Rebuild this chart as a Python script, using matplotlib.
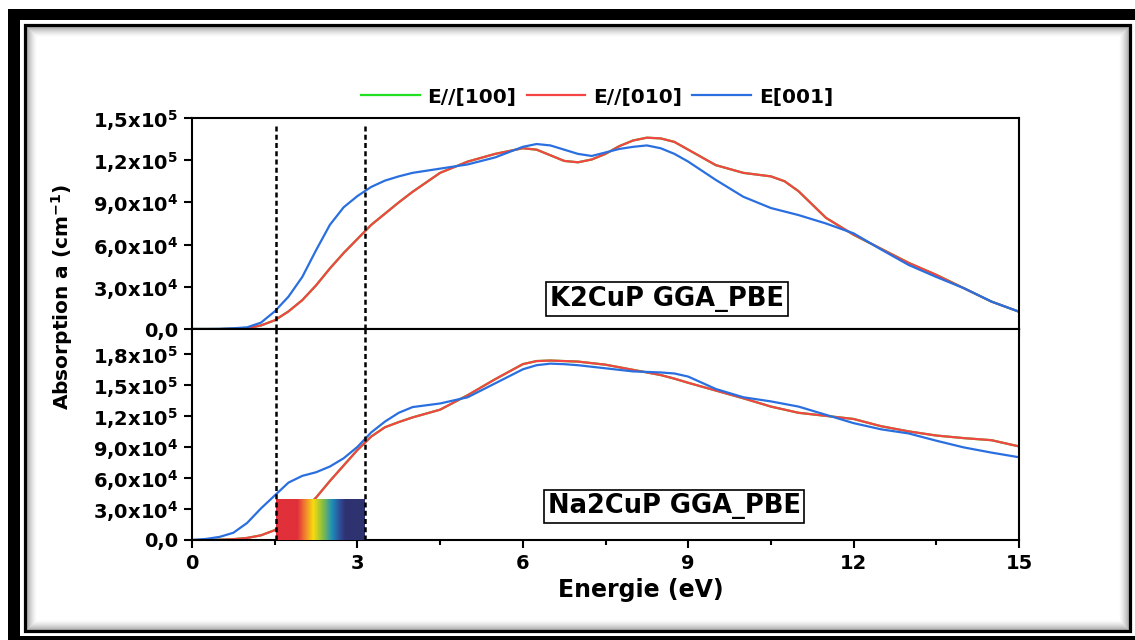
import matplotlib.pyplot as plt
import numpy as np
from matplotlib.patches import Rectangle
from matplotlib.colors import LinearSegmentedColormap
from matplotlib.lines import Line2D
from matplotlib.ticker import MultipleLocator

plt.rcParams['font.family'] = 'DejaVu Sans'
plt.rcParams['font.weight'] = 'bold'
plt.rcParams['mathtext.default'] = 'bf'

# energie (eV)
energie = [0, 0.25, 0.5, 0.75, 1.0, 1.25, 1.5, 1.75, 2.0, 2.25, 2.5, 2.75, 3.0, 3.25, 3.5, 3.75,
           4.0, 4.5, 5.0, 5.5, 6.0, 6.25, 6.5, 6.75, 7.0, 7.25, 7.5, 7.75, 8.0, 8.25, 8.5, 8.75,
           9.0, 9.5, 10.0, 10.5, 10.75, 11.0, 11.5, 12.0, 12.5, 13.0, 13.5, 14.0, 14.5, 15.0]

# K2CuP, absorption en 1e3 cm-1
k2_e010 = [0, 0, 0, 0.2, 0.6, 2.5, 6.2, 12.5, 20.5, 31, 43, 54, 64, 74, 82, 90,
           97.5, 111, 119, 124.5, 128.5, 127.5, 123.5, 119.5, 118.5, 120.5, 124.5, 130, 134, 136, 135.5, 133,
           127.5, 116.5, 111, 108.5, 105, 98, 79, 67, 57, 47, 38.5, 29, 19.5, 12.3]
k2_e100 = list(k2_e010)  # [100] = [010], cachee sous la rouge
k2_e001 = [0, 0, 0.1, 0.5, 1.2, 4.5, 12.5, 23, 37, 56, 74, 86.5, 94.5, 101, 105.5, 108.5,
           111, 114, 117, 122, 129.5, 131.5, 130.5, 127.5, 124.5, 123, 125.5, 128, 129.5, 130.5, 128.5, 124.5,
           119, 106, 94, 86, 83.5, 81, 75, 68, 56.5, 45.5, 37, 29, 19.5, 12.3]

# Na2CuP
na2_e010 = [0, 0, 0.3, 0.8, 2, 4.5, 9.5, 18, 28, 41, 57, 72, 87, 100, 109, 114,
            118.5, 126, 140, 155.5, 170, 173, 173.5, 173, 172.5, 171, 169.5, 167, 164.5, 162, 159.5, 156,
            152, 144.5, 137, 129, 126, 123, 120, 117, 110, 105, 101, 98.5, 96.5, 90.5]
na2_e100 = list(na2_e010)
na2_e001 = [0, 1, 3, 7, 16.5, 30.5, 43, 55.5, 62, 65.5, 71, 79, 90, 104, 114.5, 123,
            128.5, 132, 138, 151.5, 165, 169, 170.5, 170, 169, 167.5, 166, 164.5, 163, 162.5, 162, 161,
            158, 146, 138, 134, 131.5, 129, 121, 113, 107, 103, 96, 89.5, 84.5, 80]

labels = ['E//[100]', 'E//[010]', 'E[001]']
couleurs = ['#22e022', '#f44444', '#2a6fe0']

k2_ticks = [0, 3e4, 6e4, 9e4, 1.2e5, 1.5e5]
k2_ticklabels = ['0,0', '3,0x10$^4$', '6,0x10$^4$', '9,0x10$^4$', '1,2x10$^5$', '1,5x10$^5$']
na2_ticks = [0, 3e4, 6e4, 9e4, 1.2e5, 1.5e5, 1.8e5]
na2_ticklabels = ['0,0', '3,0x10$^4$', '6,0x10$^4$', '9,0x10$^4$', '1,2x10$^5$', '1,5x10$^5$', '1,8x10$^5$']
x_ticks = [0, 3, 6, 9, 12, 15]

visible = (1.53, 3.14)   # domaine visible (eV)
hauteur_spectre = 3.9e4

W, H = 1135, 640
fig = plt.figure(figsize=(W / 100, H / 100), dpi=100)


def box(x0, y0, x1, y1):
    return (x0 / W, 1 - y1 / H), (x1 - x0) / W, (y1 - y0) / H


# cadre
xy, w, h = box(8, 9, 1145, 650)
fig.add_artist(Rectangle(xy, w, h, transform=fig.transFigure, fc='black', ec='none', zorder=-10))
xy, w, h = box(20, 20, 1145, 636)
fig.add_artist(Rectangle(xy, w, h, transform=fig.transFigure, fc='white', ec='none', zorder=-9))
for k in range(1, 12):
    xy, w, h = box(24.5 + k, 24.5 + k, 1129.5 - k, 630.5 - k)
    fig.add_artist(Rectangle(xy, w, h, transform=fig.transFigure, fc='none',
                             ec=(0, 0, 0, 0.4 * (1 - k / 12) ** 1.5), lw=0.75, zorder=-8))
xy, w, h = box(24.5, 24.5, 1129.5, 630.5)
fig.add_artist(Rectangle(xy, w, h, transform=fig.transFigure, fc='none', ec='black', lw=2.3, zorder=-7))

left, width = 192 / W, 827 / W
ax1 = fig.add_axes([left, (H - 329) / H, width, 211 / H])
ax2 = fig.add_axes([left, (H - 540) / H, width, 211 / H])

x = np.array(energie)
for ax, series in [(ax1, [k2_e100, k2_e010, k2_e001]), (ax2, [na2_e100, na2_e010, na2_e001])]:
    for s, c in zip(series, couleurs):
        ax.plot(x, np.array(s) * 1e3, color=c, lw=1.6, zorder=2)
    for spine in ax.spines.values():
        spine.set_linewidth(1.5)
    ax.set_xlim(0, 15)
    ax.set_xticks(x_ticks)
    ax.xaxis.set_minor_locator(MultipleLocator(1.5))
    ax.tick_params(axis='both', which='major', direction='out', length=6, width=1.5, labelsize=14, pad=4)
    ax.tick_params(axis='x', which='minor', direction='out', length=3.5, width=1.5)
    ax.tick_params(top=False, right=False, which='both')

ax1.set_ylim(0, 1.5e5)
ax1.set_yticks(k2_ticks, k2_ticklabels, fontweight='bold')
ax1.tick_params(labelbottom=False)
ax1.axvline(visible[0], ymax=0.975, color='black', ls=(0, (2, 1.3)), lw=1.8, zorder=4)
ax1.axvline(visible[1], ymax=0.975, color='black', ls=(0, (2, 1.3)), lw=1.8, zorder=4)

ax2.set_ylim(0, 2.04e5)
ax2.set_yticks(na2_ticks, na2_ticklabels, fontweight='bold')
ax2.set_xticks(x_ticks, [str(t) for t in x_ticks], fontweight='bold')
ax2.axvline(visible[0], color='black', ls=(0, (2, 1.3)), lw=1.8, zorder=4)
ax2.axvline(visible[1], color='black', ls=(0, (2, 1.3)), lw=1.8, zorder=4)

# bande du spectre visible
arc = LinearSegmentedColormap.from_list('visible', [
    (0.0, '#e0303a'), (0.24, '#e0303a'), (0.32, '#f07a30'), (0.42, '#f8dc10'),
    (0.52, '#8cc040'), (0.63, '#1c90b8'), (0.72, '#304c98'), (0.78, '#2e3270'), (1.0, '#2e3270')])
ax2.imshow(np.linspace(0, 1, 256).reshape(1, -1), cmap=arc, aspect='auto',
           extent=[visible[0], visible[1], 0, hauteur_spectre], zorder=3)
ax2.set_xlim(0, 15)
ax2.set_ylim(0, 2.04e5)

ax1.text(0.574, 0.142, 'K2CuP GGA_PBE', transform=ax1.transAxes, ha='center', va='center',
         fontsize=18.5, fontweight='bold',
         bbox=dict(boxstyle='square,pad=0.15', fc='white', ec='black', lw=1.2), zorder=5)
ax2.text(0.583, 0.159, 'Na2CuP GGA_PBE', transform=ax2.transAxes, ha='center', va='center',
         fontsize=18.5, fontweight='bold',
         bbox=dict(boxstyle='square,pad=0.15', fc='white', ec='black', lw=1.2), zorder=5)

ax2.set_xlabel('Energie (eV)', fontsize=17, fontweight='bold')
ax2.xaxis.set_label_coords(0.543, -0.237)
ax2.xaxis.label.set_va('center')

fig.text(62 / W, 1 - 297 / H, 'Absorption a (cm$^{-1}$)', rotation=90, ha='center', va='center',
         fontsize=14.5, fontweight='bold')

handles = [Line2D([], [], color=c, lw=1.6, label=l) for c, l in zip(couleurs, labels)]
fig.legend(handles=handles, loc='center', bbox_to_anchor=(597 / W, 1 - 97 / H), ncol=3, frameon=False,
           prop={'weight': 'bold', 'size': 14.5}, handlelength=2.9, handletextpad=0.4, columnspacing=0.5)

fig.savefig('out.png', dpi=100)
